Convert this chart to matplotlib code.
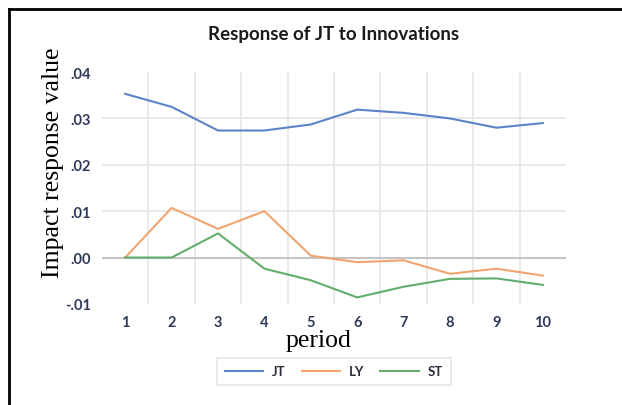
import matplotlib
matplotlib.use("Agg")
import matplotlib.pyplot as plt
from matplotlib.lines import Line2D

periods = [1, 2, 3, 4, 5, 6, 7, 8, 9, 10]
jt = [0.0353, 0.0325, 0.0274, 0.0274, 0.0287, 0.0319, 0.0312, 0.0300, 0.0280, 0.0290]
ly = [0.0, 0.0107, 0.0062, 0.0100, 0.0004, -0.0010, -0.0006, -0.0035, -0.0024, -0.0039]
st = [0.0, 0.0, 0.0052, -0.0024, -0.0049, -0.0086, -0.0063, -0.0046, -0.0045, -0.0059]
yticks = [-0.01, 0.0, 0.01, 0.02, 0.03, 0.04]
ytick_labels = ["-.01", ".00", ".01", ".02", ".03", ".04"]

BLUE = "#5b84c8"
ORANGE = "#f0a470"
GREEN = "#62ad6b"
TICK = "#2f3a5a"
SANS = ["Lato", "DejaVu Sans"]
SERIF = ["Liberation Serif", "DejaVu Serif"]

fig = plt.figure(figsize=(6.22, 4.06), dpi=100)
ax = fig.add_axes([0.164, 0.249, 0.746, 0.571])

# outer frame (top and left edges visible)
fig.add_artist(Line2D([9 / 622, 1], [1 - 10 / 406] * 2, color="black", lw=2))
fig.add_artist(Line2D([9 / 622] * 2, [0, 1 - 10 / 406], color="black", lw=2))

for x in [p + 0.5 for p in periods[:-1]]:
    ax.axvline(x, color="#e8e8e8", lw=1.3, zorder=0)
for y in [0.01, 0.02, 0.03]:
    ax.axhline(y, color="#e8e8e8", lw=1.3, zorder=0)
ax.axhline(0, color="#c4c4c4", lw=1.5, zorder=1)

ax.plot(periods, jt, color=BLUE, lw=1.5, label="JT", zorder=3)
ax.plot(periods, ly, color=ORANGE, lw=1.5, label="LY", zorder=3)
ax.plot(periods, st, color=GREEN, lw=1.5, label="ST", zorder=3)

ax.set_xlim(0.5, 10.5)
ax.set_ylim(-0.01, 0.04)
ax.set_xticks(periods)
ax.set_xticklabels([str(p) for p in periods], family=SANS, fontsize=10.5,
                   color=TICK, fontweight="bold")
ax.set_yticks(yticks)
ax.set_yticklabels(ytick_labels, family=SANS, fontsize=10.5, color=TICK,
                   fontweight="bold")
ax.tick_params(length=0, pad=8)
for s in ax.spines.values():
    s.set_visible(False)

ax.set_title("Response of JT to Innovations", family=SANS, fontsize=13.5,
             color="#1a1a1a", fontweight="bold", pad=24)
ax.set_ylabel("Impact response value", family=SERIF, fontsize=18.5, va="center")
ax.yaxis.set_label_coords(-0.106, 0.615)
ax.set_xlabel("period", family=SERIF, fontsize=18.5, va="top")
ax.xaxis.set_label_coords(0.466, -0.11)

leg = ax.legend(loc="upper center", bbox_to_anchor=(0.5, -0.205), ncol=3,
                frameon=True, fancybox=False, handlelength=2.9,
                columnspacing=1.2, handletextpad=0.7,
                prop={"family": SANS, "size": 9.5, "weight": "bold"},
                borderpad=0.55)
leg.get_frame().set_edgecolor("#e0e0e0")
leg.get_frame().set_linewidth(1.2)
for t in leg.get_texts():
    t.set_color("#2a2a3a")

fig.savefig("out.png", dpi=100, facecolor="white")
